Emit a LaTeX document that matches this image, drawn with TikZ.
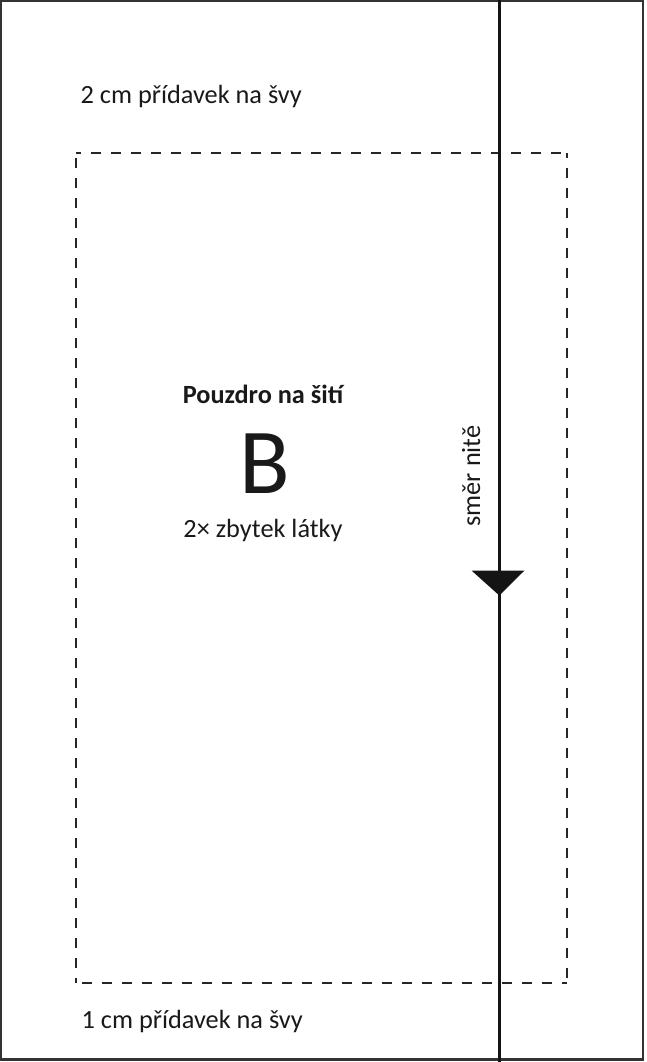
\documentclass[tikz,border=0pt]{standalone}
\usepackage{fontspec}
\setmainfont{Carlito}
\begin{document}
\begin{tikzpicture}[x=1pt,y=-1pt,
  lbl/.style={inner sep=0pt,font=\fontsize{26.3}{30}\selectfont,text=black!90},
  seam/.style={draw=black!85,line width=1.1pt,dash pattern=on 10pt off 10pt,dash phase=5pt},
  grain/.style={draw=black!92,line width=3.2pt},
  tri/.style={fill=black!92,draw=none}]
\useasboundingbox (0,0) rectangle (646,1062);
\fill[white] (0,0) rectangle (646,1062);
% outer border
\draw[black!80,line width=2.4pt] (1.2,1.3) rectangle (643,1059.3);
% seam allowance (dashed)
\draw[seam] (76,153) -- (567,153);
\draw[seam] (567,153) -- (567,983);
\draw[seam] (567,983) -- (76,983);
\draw[seam] (76,983) -- (76,153);
% grain line
\coordinate (gtop) at (499.3,0);
\coordinate (gbot) at (499.3,1062);
\draw[grain] (gtop) -- (gbot);
\fill[tri] (471.7,570.7) -- (524.3,570.7) -- (499.3,595.5) -- cycle;
% texts
\node[lbl,anchor=base west] (top) at (80.5,103.5) {2 cm přídavek na švy};
\node[lbl,anchor=base west] (bot) at (81.5,1028) {1 cm přídavek na švy};
\node[lbl,anchor=base,font=\fontsize{26.3}{30}\selectfont\bfseries] (title) at (263,403) {Pouzdro na šití};
\node[lbl,anchor=base,font=\fontsize{93}{100}\selectfont] (B) at (265,493) {B};
\node[lbl,anchor=base] (qty) at (263,537.5) {2× zbytek látky};
\node[lbl,anchor=base,rotate=90] (dir) at (480,476) {směr nitě};
\end{tikzpicture}
\end{document}
